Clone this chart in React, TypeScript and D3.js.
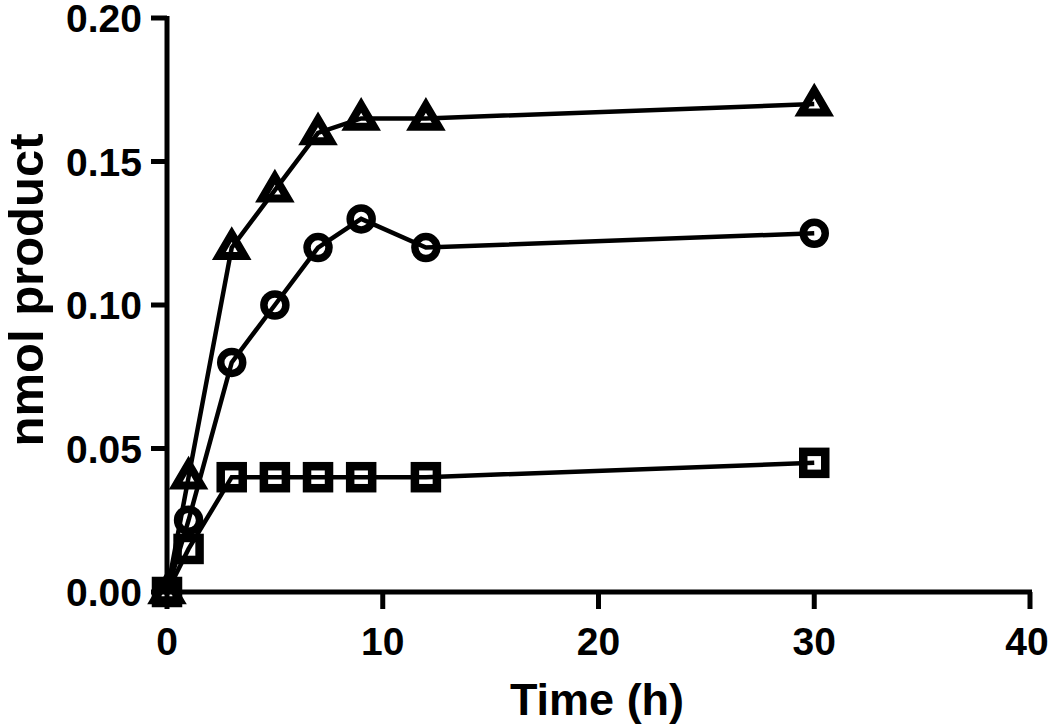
import React from "react";
import * as d3 from "d3";

const times = [0, 1, 3, 5, 7, 9, 12, 30];
const triangleValues = [0, 0.04, 0.12, 0.14, 0.16, 0.165, 0.165, 0.17];
const circleValues = [0, 0.025, 0.08, 0.1, 0.12, 0.13, 0.12, 0.125];
const squareValues = [0, 0.015, 0.04, 0.04, 0.04, 0.04, 0.04, 0.045];
const xTicks = [0, 10, 20, 30, 40];
const yTicks = [0, 0.05, 0.1, 0.15, 0.2];

const W = 1050;
const H = 727;
const FONT = "'Liberation Sans', Arial, sans-serif";

export default function App() {
  const x = d3.scaleLinear().domain([0, 40]).range([167, 1030]);
  const y = d3.scaleLinear().domain([0, 0.2]).range([592, 18]);
  const line = d3
    .line<number>()
    .x((_, i) => x(times[i]))
    .y((d) => y(d));

  const series = [
    { name: "triangle", values: triangleValues },
    { name: "circle", values: circleValues },
    { name: "square", values: squareValues },
  ];

  const marker = (shape: string, cx: number, cy: number, key: string) => {
    if (shape === "circle")
      return <circle key={key} cx={cx} cy={cy} r={11} fill="none" stroke="#000" strokeWidth={7.5} />;
    if (shape === "square")
      return <rect key={key} x={cx - 11} y={cy - 11} width={22} height={22} fill="none" stroke="#000" strokeWidth={8.5} />;
    const s = 13.5;
    const pts = [
      [cx, cy - s * 1.0],
      [cx + s * 0.95, cy + s * 0.62],
      [cx - s * 0.95, cy + s * 0.62],
    ];
    return (
      <polygon key={key} points={pts.map((p) => p.join(",")).join(" ")} fill="none" stroke="#000" strokeWidth={8} strokeLinejoin="miter" />
    );
  };

  return (
    <svg width={W} height={H} style={{ position: "absolute", left: 0, top: 0, background: "#fff" }}>
      <rect width={W} height={H} fill="#fff" />
      {series.map((s) => (
        <path key={s.name} d={line(s.values) || ""} fill="none" stroke="#000" strokeWidth={4.5} />
      ))}
      {series.map((s) =>
        s.values.map((v, i) => marker(s.name, x(times[i]), y(v), s.name + i))
      )}
      <line x1={x(0)} x2={x(0)} y1={y(0.2) - 2} y2={y(0) + 2.5} stroke="#000" strokeWidth={5} />
      <line x1={x(0) - 2.5} x2={x(40) + 2} y1={y(0)} y2={y(0)} stroke="#000" strokeWidth={5} />
      {yTicks.map((t) => (
        <g key={"y" + t}>
          <line x1={x(0) - 16} x2={x(0)} y1={y(t)} y2={y(t)} stroke="#000" strokeWidth={5} />
          <text x={142} y={y(t)} dy="0.36em" textAnchor="end" fontFamily={FONT} fontWeight="bold" fontSize={39}>
            {t.toFixed(2)}
          </text>
        </g>
      ))}
      {xTicks.map((t) => (
        <g key={"x" + t}>
          <line x1={x(t)} x2={x(t)} y1={y(0)} y2={y(0) + 17} stroke="#000" strokeWidth={5} />
          <text x={Math.min(x(t), 1027)} y={655} textAnchor="middle" fontFamily={FONT} fontWeight="bold" fontSize={39}>
            {t}
          </text>
        </g>
      ))}
      <text x={597} y={715} textAnchor="middle" fontFamily={FONT} fontWeight="bold" fontSize={45}>
        Time (h)
      </text>
      <text transform="translate(43,290) rotate(-90)" textAnchor="middle" fontFamily={FONT} fontWeight="bold" fontSize={49}>
        nmol product
      </text>
    </svg>
  );
}
